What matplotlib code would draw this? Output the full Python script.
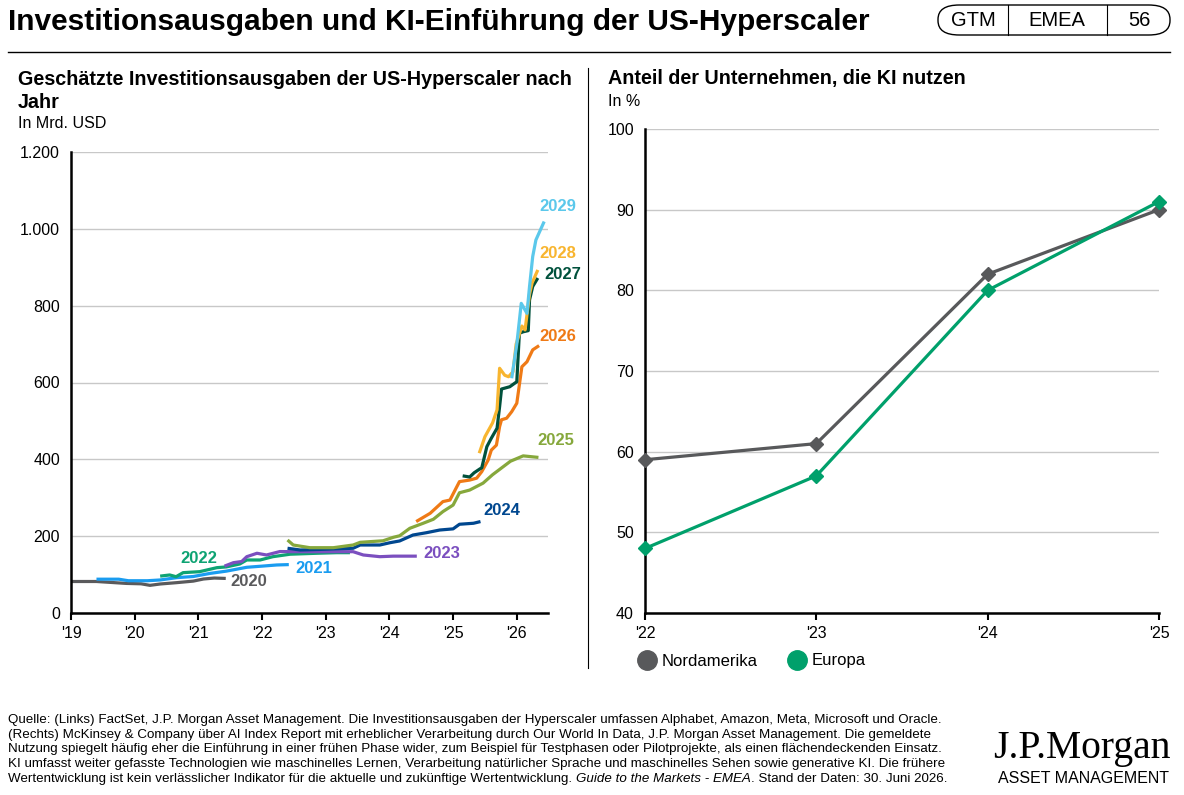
import numpy as np
import matplotlib
matplotlib.use("Agg")
from matplotlib import pyplot as plt
from matplotlib.patches import FancyBboxPatch
from matplotlib.lines import Line2D
from matplotlib.ticker import FuncFormatter

plt.rcParams['font.family'] = ['Liberation Sans', 'DejaVu Sans']

# --- left chart: capex estimate per year (x = decimal year of estimate, y = bn USD)
x2020 = [2019.0, 2019.4, 2019.87, 2020.1, 2020.24, 2020.4, 2020.66, 2020.92, 2021.08, 2021.25, 2021.43]
y2020 = [82, 82, 77, 76, 72, 75.5, 79, 83, 88.5, 91, 90]
x2021 = [2019.4, 2019.75, 2019.9, 2020.2, 2020.4, 2020.66, 2020.92, 2021.18, 2021.44, 2021.76, 2022.0, 2022.23, 2022.42]
y2021 = [88, 88, 84, 84, 86, 92, 95, 103, 109, 119, 122, 125, 126]
x2022 = [2020.4, 2020.55, 2020.65, 2020.76, 2021.02, 2021.29, 2021.44, 2021.65, 2021.76, 2021.97, 2022.17, 2022.44, 2022.86, 2023.17, 2023.38]
y2022 = [96, 99, 94.5, 105, 107.6, 118, 120, 127.6, 138, 138, 146.6, 153, 155.5, 157, 157]
x2023 = [2021.41, 2021.55, 2021.68, 2021.76, 2021.92, 2022.07, 2022.28, 2022.49, 2023.01, 2023.43, 2023.59, 2023.85, 2024.06, 2024.43]
y2023 = [122, 131, 134, 146.6, 155.5, 151, 160, 159.6, 159.6, 159.6, 151, 146.6, 148, 148]
x2024 = [2022.40, 2022.6, 2023.01, 2023.43, 2023.54, 2023.85, 2024.01, 2024.16, 2024.37, 2024.58, 2024.79, 2025.0, 2025.1, 2025.32, 2025.43]
y2024 = [168.5, 164, 166, 168.5, 177, 177, 183, 187.5, 203, 209, 216, 219, 231, 233.6, 238]
x2025 = [2022.40, 2022.49, 2022.75, 2023.12, 2023.43, 2023.54, 2023.90, 2024.06, 2024.16, 2024.32, 2024.53, 2024.69, 2024.84, 2025.0, 2025.1, 2025.26, 2025.47, 2025.62, 2025.78, 2025.9, 2026.0, 2026.1, 2026.34]
y2025 = [190, 177, 170, 170, 177, 184, 188, 197, 201, 220.5, 233.6, 244, 264, 281, 313, 320, 338, 360, 380, 395, 402, 409, 405]
x2026 = [2024.42, 2024.64, 2024.84, 2024.95, 2025.1, 2025.26, 2025.37, 2025.45, 2025.55, 2025.6, 2025.68, 2025.73, 2025.76, 2025.84, 2025.92, 2026.0, 2026.08, 2026.16, 2026.25, 2026.35]
y2026 = [238, 259.6, 290, 294, 342, 346, 351, 368, 398, 424, 437, 485, 503, 507, 524, 546, 641, 654, 685, 696]
x2027 = [2025.15, 2025.26, 2025.33, 2025.42, 2025.45, 2025.53, 2025.6, 2025.69, 2025.73, 2025.76, 2025.89, 2026.0, 2026.04, 2026.1, 2026.18, 2026.2, 2026.25, 2026.33]
y2027 = [357, 354, 365, 375, 378, 433, 455, 481, 537, 583, 589, 602, 728, 732, 735, 815, 850, 872]
x2028 = [2025.41, 2025.5, 2025.62, 2025.69, 2025.73, 2025.81, 2025.87, 2025.94, 2025.99, 2026.08, 2026.13, 2026.2, 2026.24, 2026.33]
y2028 = [416, 459, 495, 529, 637, 619, 615, 628, 700, 747, 737, 830, 859, 893]
x2029 = [2025.92, 2026.0, 2026.07, 2026.16, 2026.2, 2026.25, 2026.3, 2026.43]
y2029 = [611, 700, 806, 780, 850, 928, 971, 1019]

series_names = ['2020', '2021', '2022', '2023', '2024', '2025', '2026', '2027', '2028', '2029']
series_x = [x2020, x2021, x2022, x2023, x2024, x2025, x2026, x2027, x2028, x2029]
series_y = [y2020, y2021, y2022, y2023, y2024, y2025, y2026, y2027, y2028, y2029]
series_colors = ['#5a5a5c', '#1a9cf0', '#0ea373', '#7b4fbf', '#00478f',
                 '#86a83c', '#ef7a16', '#00513c', '#f8b52f', '#5bc8eb']
# label anchor (x, y in data units)
label_x = [2021.51, 2022.53, 2020.71, 2024.53, 2025.48, 2026.33, 2026.36, 2026.44, 2026.36, 2026.36]
label_y = [83, 117, 143, 154, 266, 448, 721, 880, 937, 1057]

left_ticks = [2019, 2020, 2021, 2022, 2023, 2024, 2025, 2026]
left_ticklabels = ["'19", "'20", "'21", "'22", "'23", "'24", "'25", "'26"]

# --- right chart: share of firms using AI
years_r = [2022, 2023, 2024, 2025]
years_r_labels = ["'22", "'23", "'24", "'25"]
nordamerika = [59, 61, 82, 90]
europa = [48, 57, 80, 91]

W, H = 1184, 795
fig = plt.figure(figsize=(W / 100, H / 100), dpi=100)


def fx(x):
    return x / W


def fy(y):
    return 1 - y / H


# header
fig.text(fx(8), fy(30), "Investitionsausgaben und KI-Einführung der US-Hyperscaler",
         fontsize=21.5, fontweight='bold', va='baseline', ha='left')
box = FancyBboxPatch((fx(938), fy(35)), fx(1170 - 938), (35 - 5) / H,
                     boxstyle="round,pad=0,rounding_size=0.018",
                     transform=fig.transFigure, fill=False, lw=1.0, ec='black')
fig.add_artist(box)
for xd in [1008, 1107]:
    fig.add_artist(Line2D([fx(xd), fx(xd)], [fy(5), fy(35)], transform=fig.transFigure,
                          color='black', lw=0.8))
for txt, xc in [("GTM", 973), ("EMEA", 1057), ("56", 1139)]:
    fig.text(fx(xc), fy(20), txt, fontsize=14.5, ha='center', va='center')
fig.add_artist(Line2D([fx(8), fx(1170)], [fy(52), fy(52)], transform=fig.transFigure,
                      color='black', lw=1.0))
fig.add_artist(Line2D([fx(588), fx(588)], [fy(68), fy(668)], transform=fig.transFigure,
                      color='black', lw=0.8))

# subtitles
fig.text(fx(18), fy(85), "Geschätzte Investitionsausgaben der US-Hyperscaler nach",
         fontsize=14.2, fontweight='bold', va='baseline')
fig.text(fx(18), fy(108), "Jahr", fontsize=14.2, fontweight='bold', va='baseline')
fig.text(fx(18), fy(128), "In Mrd. USD", fontsize=11.5, va='baseline')
fig.text(fx(608), fy(84), "Anteil der Unternehmen, die KI nutzen",
         fontsize=14.2, fontweight='bold', va='baseline')
fig.text(fx(608), fy(106), "In %", fontsize=11.5, va='baseline')

# left axes
axL = fig.add_axes([fx(71), fy(613), fx(548 - 71), (613 - 152) / H])
for xs, ys, c in zip(series_x, series_y, series_colors):
    axL.plot(xs, ys, color=c, lw=2.3, solid_joinstyle='round', solid_capstyle='butt')
for name, lx, ly, c in zip(series_names, label_x, label_y, series_colors):
    axL.text(lx, ly, name, color=c, fontsize=12, fontweight='bold',
             ha='left', va='center', clip_on=False)
axL.set_xlim(2019, 2026.49)
axL.set_ylim(0, 1200)
axL.set_yticks(range(0, 1201, 200))
axL.yaxis.set_major_formatter(FuncFormatter(lambda v, p: f"{int(v):,}".replace(",", ".")))
axL.set_xticks(left_ticks)
axL.set_xticklabels(left_ticklabels)
axL.grid(axis='y', color='#c8c8c8', lw=1.0)
axL.set_axisbelow(True)

# right axes
axR = fig.add_axes([fx(645), fy(613), fx(1159 - 645), (613 - 129) / H])
axR.plot(years_r, nordamerika, color='#58595b', lw=2.3, marker='D', markersize=7.5,
         clip_on=False, zorder=3)
axR.plot(years_r, europa, color='#00a06b', lw=2.3, marker='D', markersize=7.5,
         clip_on=False, zorder=4)
axR.set_xlim(2022, 2025)
axR.set_ylim(40, 100)
axR.set_yticks(range(40, 101, 10))
axR.set_xticks(years_r)
axR.set_xticklabels(years_r_labels)
axR.grid(axis='y', color='#c8c8c8', lw=1.0)
axR.set_axisbelow(True)

for ax in (axL, axR):
    for s in ('top', 'right'):
        ax.spines[s].set_visible(False)
    for s in ('left', 'bottom'):
        ax.spines[s].set_linewidth(1.8)
    ax.tick_params(axis='y', length=0, labelsize=11.5, pad=8)
    ax.tick_params(axis='x', length=5, width=1.5, labelsize=11.5, pad=4)

handles = [Line2D([], [], marker='o', ls='', color='#58595b', markersize=14),
           Line2D([], [], marker='o', ls='', color='#00a06b', markersize=14)]
fig.legend(handles, ['Nordamerika', 'Europa'], loc='center left',
           bbox_to_anchor=(fx(619), fy(661)), ncol=2, frameon=False, fontsize=12,
           handletextpad=0.15, columnspacing=1.6, handlelength=1.5)

# footer
fs_foot = 9.6
footer = [
    "Quelle: (Links) FactSet, J.P. Morgan Asset Management. Die Investitionsausgaben der Hyperscaler umfassen Alphabet, Amazon, Meta, Microsoft und Oracle.",
    "(Rechts) McKinsey & Company über AI Index Report mit erheblicher Verarbeitung durch Our World In Data, J.P. Morgan Asset Management. Die gemeldete",
    "Nutzung spiegelt häufig eher die Einführung in einer frühen Phase wider, zum Beispiel für Testphasen oder Pilotprojekte, als einen flächendeckenden Einsatz.",
    "KI umfasst weiter gefasste Technologien wie maschinelles Lernen, Verarbeitung natürlicher Sprache und maschinelles Sehen sowie generative KI. Die frühere",
]
for i, line in enumerate(footer):
    fig.text(fx(8), fy(723 + i * 14.7), line, fontsize=fs_foot, va='baseline')
last_y = fy(723 + 4 * 14.7)
t1 = fig.text(fx(8), last_y, "Wertentwicklung ist kein verlässlicher Indikator für die aktuelle und zukünftige Wertentwicklung. ",
              fontsize=fs_foot, va='baseline')
fig.canvas.draw()
r = fig.canvas.get_renderer()
bb = t1.get_window_extent(r)
t2 = fig.text(bb.x1 / W, last_y, "Guide to the Markets - EMEA", fontsize=fs_foot,
              style='italic', va='baseline')
bb2 = t2.get_window_extent(r)
fig.text(bb2.x1 / W, last_y, ". Stand der Daten: 30. Juni 2026.", fontsize=fs_foot, va='baseline')

# logo
fig.text(fx(1082), fy(758), "J.P.Morgan", fontsize=28.5, family='Liberation Serif',
         ha='center', va='baseline')
fig.text(fx(1083), fy(783), "ASSET MANAGEMENT", fontsize=11.5, ha='center', va='baseline')

fig.savefig("out.png", dpi=100)
